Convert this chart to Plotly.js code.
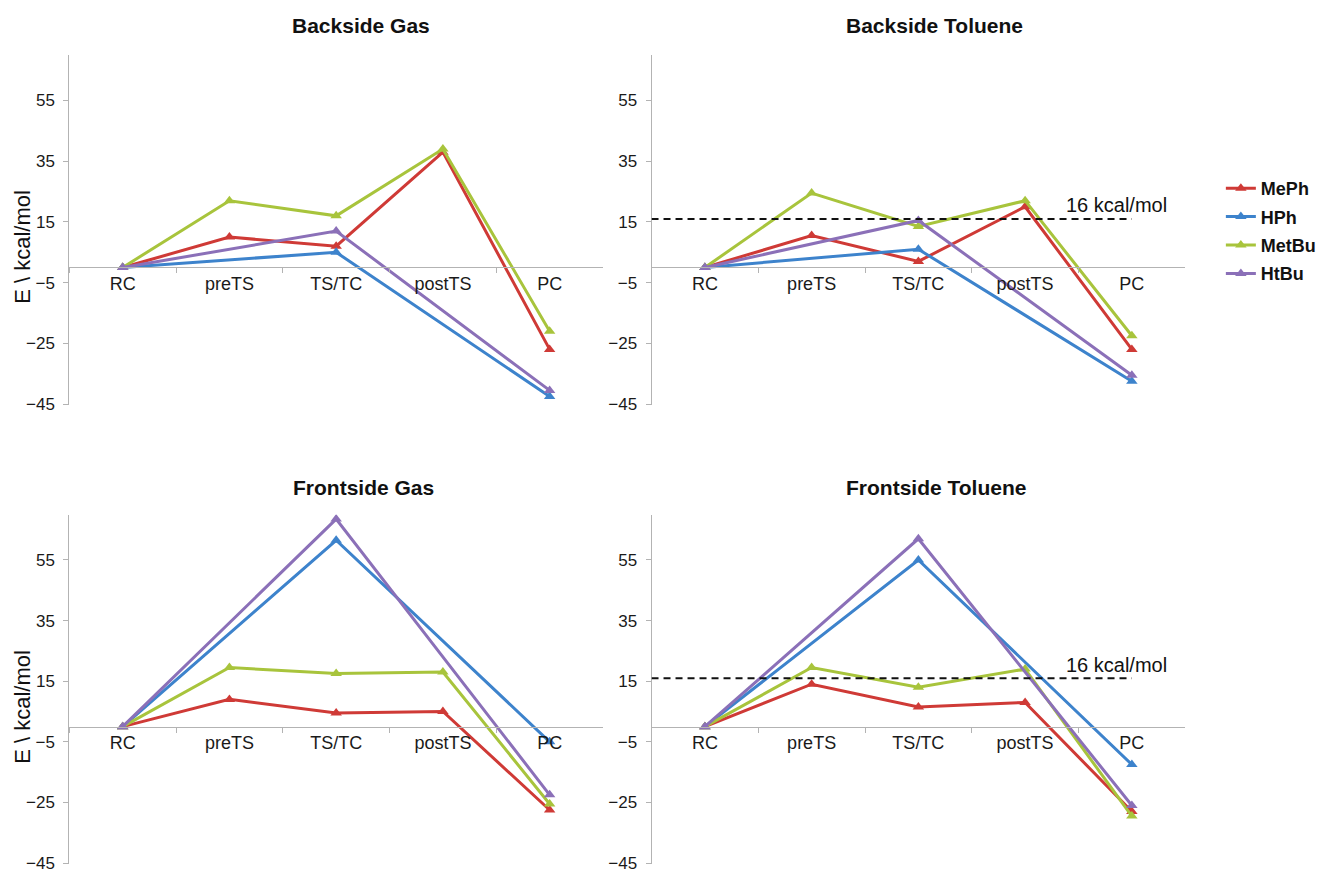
<!DOCTYPE html>
<html>
<head>
<meta charset="utf-8">
<script src="https://cdn.plot.ly/plotly-3.0.1.min.js"></script>
<style>html,body{margin:0;padding:0;background:#fff;} #chart{width:1321px;height:872px;}</style>
</head>
<body>
<div id="chart"></div>
<script>
// ---- data ----
const categories = ['RC', 'preTS', 'TS/TC', 'postTS', 'PC'];
const seriesNames = ['MePh', 'HPh', 'MetBu', 'HtBu'];
const yTickVals = [-45, -25, -5, 15, 35, 55];
const yRange = [-45.15, 70];
const barrierValue = 16;
const barrierLabel = '16 kcal/mol';
const panelTitles = ['Backside Gas', 'Backside Toluene', 'Frontside Gas', 'Frontside Toluene'];
const yTitle = 'E \\ kcal/mol';

const backsideGasMePh   = [0, 10, 7, 38, -27];
const backsideGasHPh    = [0, null, 5, null, -42.5];
const backsideGasMetBu  = [0, 22, 17, 39, -21];
const backsideGasHtBu   = [0, null, 12, null, -40.5];

const backsideTolMePh   = [0, 10.5, 2, 20, -27];
const backsideTolHPh    = [0, null, 6, null, -37.5];
const backsideTolMetBu  = [0, 24.5, 13.5, 22, -22.5];
const backsideTolHtBu   = [0, null, 15.5, null, -35.5];

const frontsideGasMePh  = [0, 9, 4.5, 5, -27.5];
const frontsideGasHPh   = [0, null, 61.5, null, -5];
const frontsideGasMetBu = [0, 19.5, 17.5, 18, -25.5];
const frontsideGasHtBu  = [0, null, 68.5, null, -22.5];

const frontsideTolMePh  = [0, 14, 6.5, 8, -28];
const frontsideTolHPh   = [0, null, 55, null, -12.5];
const frontsideTolMetBu = [0, 19.5, 13, 19, -29.5];
const frontsideTolHtBu  = [0, null, 62, null, -26];

// ---- styling ----
const colors = ['#cf3a36', '#3d83cc', '#a8c43c', '#8b70b8'];
const W = 1321, H = 872;
const FONT = 'Liberation Sans, Arial, Helvetica, sans-serif';
const xDomLeft = [70 / W, 609 / W];
const xDomRight = [658 / W, 1197 / W];
const yDomTop = [(H - 404.5) / H, (H - 55) / H];
const yDomBot = [(H - 863.5) / H, (H - 514.5) / H];

const panels = [
  { data: [backsideGasMePh, backsideGasHPh, backsideGasMetBu, backsideGasHtBu], xd: xDomLeft, yd: yDomTop },
  { data: [backsideTolMePh, backsideTolHPh, backsideTolMetBu, backsideTolHtBu], xd: xDomRight, yd: yDomTop },
  { data: [frontsideGasMePh, frontsideGasHPh, frontsideGasMetBu, frontsideGasHtBu], xd: xDomLeft, yd: yDomBot },
  { data: [frontsideTolMePh, frontsideTolHPh, frontsideTolMetBu, frontsideTolHtBu], xd: xDomRight, yd: yDomBot }
];

const traces = [];
const layout = {
  width: W, height: H,
  margin: { l: 0, r: 0, t: 0, b: 0 },
  paper_bgcolor: '#ffffff', plot_bgcolor: 'rgba(0,0,0,0)',
  font: { family: FONT, color: '#1a1a1a' },
  showlegend: true,
  legend: {
    x: 1233 / W, y: (H - 170) / H, xanchor: 'left', yanchor: 'top',
    font: { family: FONT, size: 18, weight: 'bold', color: '#111' },
    bgcolor: 'rgba(0,0,0,0)', borderwidth: 0, itemwidth: 30, tracegroupgap: 2
  },
  annotations: [], shapes: []
};

const titlePos = [[365, 26], [944, 26], [367, 487], [945, 487]];

panels.forEach((p, i) => {
  const n = i + 1;
  const xa = n === 1 ? 'x' : 'x' + n;
  const ya = n === 1 ? 'y' : 'y' + n;
  p.data.forEach((vals, s) => {
    traces.push({
      type: 'scatter', mode: 'lines+markers',
      x: categories, y: vals, xaxis: xa, yaxis: ya,
      name: seriesNames[s], legendgroup: seriesNames[s],
      showlegend: i === 0, connectgaps: true,
      line: { color: colors[s], width: 3 },
      marker: { symbol: 'triangle-up', size: 10, color: colors[s] }
    });
  });
  const zeroPos = p.yd[0] + (0 - yRange[0]) / (yRange[1] - yRange[0]) * (p.yd[1] - p.yd[0]);
  layout['xaxis' + (n === 1 ? '' : n)] = {
    domain: p.xd, anchor: 'free', position: zeroPos, type: 'category',
    range: [-0.5, 4.5], categoryorder: 'array', categoryarray: categories,
    showline: true, linecolor: '#b3b3b3', linewidth: 1,
    ticks: 'outside', tickson: 'boundaries', ticklen: 5, tickcolor: '#b3b3b3',
    showgrid: false, zeroline: false, fixedrange: true,
    tickfont: { family: FONT, size: 18, color: '#1a1a1a' }
  };
  layout['yaxis' + (n === 1 ? '' : n)] = {
    domain: p.yd, anchor: xa, range: yRange,
    tickmode: 'array', tickvals: yTickVals, ticklabeloverflow: 'allow',
    showline: true, linecolor: '#b3b3b3', linewidth: 1,
    ticks: 'outside', ticklen: 5, tickcolor: '#b3b3b3', ticklabelstandoff: 5,
    showgrid: false, zeroline: false, fixedrange: true,
    tickfont: { family: FONT, size: 17, color: '#1a1a1a' }
  };
  layout.annotations.push({
    text: '<b>' + panelTitles[i] + '</b>', xref: 'paper', yref: 'paper',
    x: titlePos[i][0] / W, y: (H - titlePos[i][1]) / H, xanchor: 'center', yanchor: 'middle',
    showarrow: false, font: { family: FONT, size: 21, color: '#111' }
  });
  if (n === 1 || n === 3) {
    layout.annotations.push({
      text: yTitle, xref: 'paper', yref: 'paper', textangle: -90,
      x: 22 / W, y: (H - (n === 1 ? 247 : 707)) / H, xanchor: 'center', yanchor: 'middle',
      showarrow: false, font: { family: FONT, size: 22, color: '#111' }
    });
  }
  if (n === 2 || n === 4) {
    layout.shapes.push({
      type: 'line', xref: xa, yref: ya, x0: -0.5, x1: 4, y0: barrierValue, y1: barrierValue,
      line: { color: '#111', width: 2, dash: '7px,5px' }
    });
    layout.annotations.push({
      text: barrierLabel, xref: xa, yref: ya, x: 3.36, y: 20.5,
      xanchor: 'left', yanchor: 'middle', showarrow: false,
      font: { family: FONT, size: 20, color: '#111' }
    });
  }
});

Plotly.newPlot('chart', traces, layout, { displayModeBar: false, staticPlot: true });
</script>
</body>
</html>
